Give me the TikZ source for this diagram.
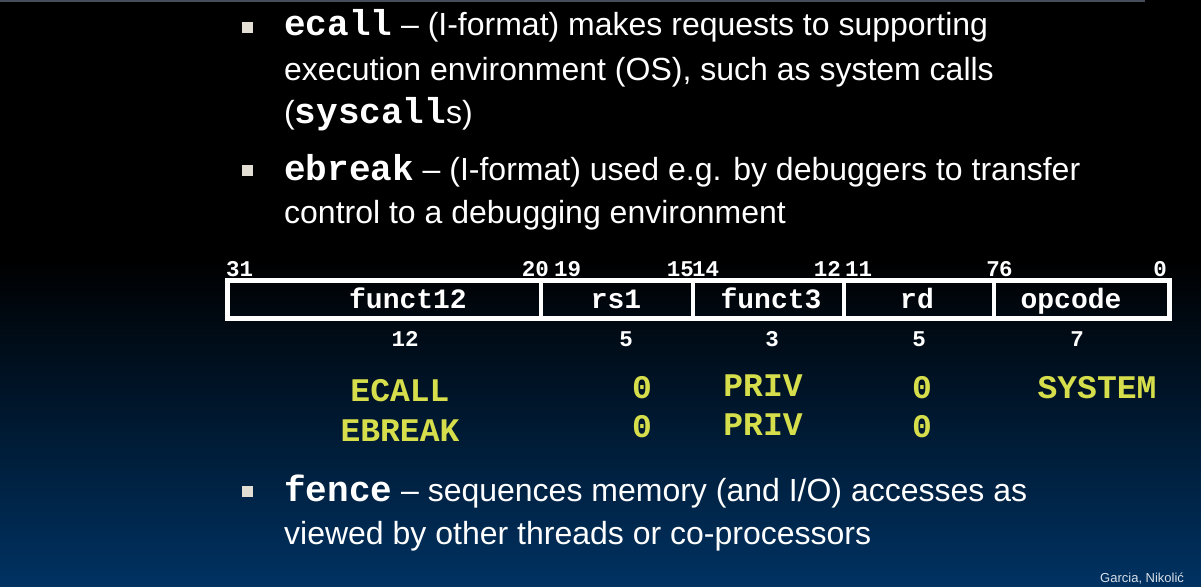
\documentclass[tikz,border=0pt]{standalone}
\usepackage{fontspec}
\setmainfont{Liberation Sans}
\newfontfamily\monofont{Liberation Mono}
\definecolor{navy}{RGB}{0,50,98}
\definecolor{hilite}{RGB}{215,222,75}
\definecolor{bulletgray}{RGB}{226,222,212}
\definecolor{topline}{RGB}{70,78,92}
\begin{document}
\begin{tikzpicture}[x=1pt,y=-1pt,
  body/.style={anchor=base west,inner sep=0pt,text=white,font=\fontsize{32}{36}\selectfont},
  bul/.style={fill=bulletgray,draw=none,minimum size=11pt,inner sep=0pt},
  bitnum/.style={inner sep=0pt,text=white,font=\fontsize{22.5}{24}\monofont\bfseries},
  field/.style={anchor=base,inner sep=0pt,text=white,font=\fontsize{28}{30}\monofont\bfseries},
  width/.style={anchor=base,inner sep=0pt,text=white,font=\fontsize{22.5}{24}\monofont\bfseries},
  yel/.style={anchor=base,inner sep=0pt,text=hilite,font=\fontsize{33}{36}\monofont\bfseries},
  regline/.style={draw=white,line width=5pt},
  divline/.style={draw=white,line width=3.5pt}]
\useasboundingbox (0,0) rectangle (1201,586);
\fill[black] (0,0) rectangle (1201,586);
\shade[top color=black,bottom color=navy] (0,260) rectangle (1201,586);
\fill[topline] (0,0) rectangle (1145,2);
% bullets
\node[bul] (b1) at (247,28) {};
\node[bul] (b2) at (247,170) {};
\node[bul] (b3) at (247,491) {};
% bullet 1
\node[body] (t11) at (284,36) {{\fontsize{36}{40}\monofont\bfseries ecall} -- (I-format) makes requests to supporting};
\node[body] (t12) at (284,80) {execution environment (OS), such as system calls};
\node[body] (t13) at (284,123) {({\fontsize{36}{40}\monofont\bfseries syscall}s)};
% bullet 2
\node[body] (t21) at (284,180) {{\fontsize{36}{40}\monofont\bfseries ebreak} -- (I-format) used e.g. by debuggers to transfer};
\node[body] (t22) at (284,223) {control to a debugging environment};
% bullet 3
\node[body] (t31) at (284,501) {{\fontsize{36}{40}\monofont\bfseries fence} -- sequences memory (and I/O) accesses as};
\node[body] (t32) at (284,544) {viewed by other threads or co-processors};
% register
\draw[regline] (227.5,280.5) rectangle (1169.5,318.5);
\coordinate (d1t) at (541,283); \coordinate (d1b) at (541,316);
\coordinate (d2t) at (693,283); \coordinate (d2b) at (693,316);
\coordinate (d3t) at (844,283); \coordinate (d3b) at (844,316);
\coordinate (d4t) at (994,283); \coordinate (d4b) at (994,316);
\draw[divline] (d1t) -- (d1b);
\draw[divline] (d2t) -- (d2b);
\draw[divline] (d3t) -- (d3b);
\draw[divline] (d4t) -- (d4b);
% bit numbers
\node[bitnum,anchor=base west] (n31) at (226,276) {31};
\node[bitnum,anchor=base east] (n20) at (549,276) {20};
\node[bitnum,anchor=base west] (n19) at (554,276) {19};
\node[bitnum,anchor=base east] (n15) at (694,276) {15};
\node[bitnum,anchor=base west] (n14) at (692,276) {14};
\node[bitnum,anchor=base east] (n12) at (841,276) {12};
\node[bitnum,anchor=base west] (n11) at (845,276) {11};
\node[bitnum,anchor=base east] (n7) at (1000,276) {7};
\node[bitnum,anchor=base west] (n6) at (999,276) {6};
\node[bitnum,anchor=base east] (n0) at (1167,276) {0};
% fields
\node[field] (f1) at (408,308) {funct12};
\node[field] (f2) at (616,308) {rs1};
\node[field] (f3) at (771,308) {funct3};
\node[field] (f4) at (917,308) {rd};
\node[field] (f5) at (1071,308) {opcode};
% widths
\node[width] (w1) at (405,346) {12};
\node[width] (w2) at (626,346) {5};
\node[width] (w3) at (772,346) {3};
\node[width] (w4) at (919,346) {5};
\node[width] (w5) at (1077,346) {7};
% yellow rows
\node[yel] (e1) at (400,401) {ECALL};
\node[yel] (e2) at (642,398) {0};
\node[yel] (e3) at (763,396) {PRIV};
\node[yel] (e4) at (922,398) {0};
\node[yel] (e5) at (1097,398) {SYSTEM};
\node[yel] (r1) at (400,441) {EBREAK};
\node[yel] (r2) at (642,437) {0};
\node[yel] (r3) at (763,435) {PRIV};
\node[yel] (r4) at (922,437) {0};
% footer
\node[anchor=base west,inner sep=0pt,text=white!85!navy,font=\fontsize{13}{15}\selectfont] (foot) at (1100,582) {Garcia, Nikolić};
\end{tikzpicture}
\end{document}
